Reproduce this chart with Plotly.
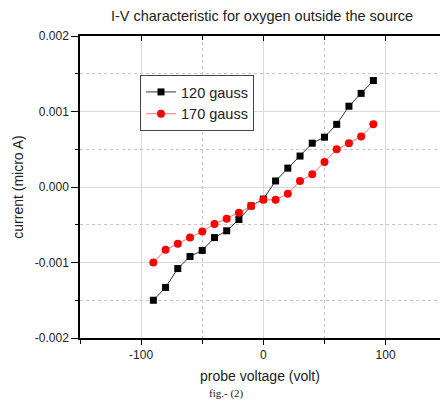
import plotly.graph_objects as go

# Probe voltage (V) and probe current readings for the two field strengths
voltage = [-90, -80, -70, -60, -50, -40, -30, -20, -10, 0,
           10, 20, 30, 40, 50, 60, 70, 80, 90]
current_120 = [-0.00150, -0.00133, -0.00108, -0.00092, -0.00084, -0.00067,
               -0.00058, -0.00043, -0.00025, -0.00016, 0.00008, 0.00025,
               0.00041, 0.00058, 0.00066, 0.00083, 0.00107, 0.00124, 0.00141]
current_170 = [-0.00100, -0.00083, -0.00075, -0.00067, -0.00059, -0.00049,
               -0.00042, -0.00034, -0.00025, -0.00017, -0.00017, -0.00009,
               0.00008, 0.00017, 0.00033, 0.00050, 0.00058, 0.00067, 0.00083]

x_ticks = [-100, 0, 100]
x_tick_text = ["-100", "0", "100"]
y_ticks = [-0.002, -0.001, 0.000, 0.001, 0.002]
y_tick_text = ["-0.002", "-0.001", "0.000", "0.001", "0.002"]

FONT = "Liberation Sans, Arial, sans-serif"

fig = go.Figure()
fig.add_trace(go.Scatter(
    x=voltage, y=current_120, name="120 gauss", mode="lines+markers",
    line=dict(color="#333333", width=1),
    marker=dict(symbol="square", size=7, color="#000000"),
))
fig.add_trace(go.Scatter(
    x=voltage, y=current_170, name="170 gauss", mode="lines+markers",
    line=dict(color="#ff7070", width=1),
    marker=dict(symbol="circle", size=8, color="#ff0000"),
))

grid_major = "#d9d9d9"
grid_minor = "#c4c4c4"

fig.update_layout(
    width=440, height=401,
    margin=dict(l=80, r=0, t=36, b=63),
    paper_bgcolor="white", plot_bgcolor="white",
    font=dict(family=FONT, color="#222222", size=12),
    title=dict(text="I-V characteristic for oxygen outside the source",
               x=262 / 440, xanchor="center", y=1 - 16 / 401, yanchor="middle",
               font=dict(size=14.5, color="#222222")),
    showlegend=True,
    legend=dict(x=(140 - 80) / 360, y=(338 - 75) / 302, xanchor="left", yanchor="top",
                bordercolor="#444444", borderwidth=1, bgcolor="white",
                font=dict(size=14.5, color="#222222"),
                tracegroupgap=0, itemwidth=30),
    xaxis=dict(
        range=[-150, 144.5], tickvals=x_ticks, ticktext=x_tick_text,
        ticks="outside", ticklen=5,
        tickwidth=1.2, tickcolor="#000", showline=True, linecolor="#000",
        linewidth=1.5, showgrid=True, gridcolor=grid_major, gridwidth=1,
        zeroline=False, tickfont=dict(size=12),
        minor=dict(dtick=50, tick0=0, ticks="outside", ticklen=4,
                   tickcolor="#000", showgrid=True, gridcolor=grid_minor,
                   griddash="dot"),
        title=dict(text="probe voltage (volt)", font=dict(size=14), standoff=10),
    ),
    xaxis2=dict(
        matches="x", overlaying="x", side="top", showticklabels=False,
        tickvals=x_ticks, ticks="inside", ticklen=5, tickwidth=1.2,
        tickcolor="#000", showline=True, linecolor="#000", linewidth=1.5,
        showgrid=False, zeroline=False,
        minor=dict(dtick=50, tick0=0, ticks="inside", ticklen=4,
                   tickcolor="#000", showgrid=False),
    ),
    yaxis=dict(
        range=[-0.002, 0.002], tickvals=y_ticks, ticktext=y_tick_text,
        ticks="outside", ticklen=7, tickwidth=1.2, tickcolor="#000",
        showline=True, linecolor="#000", linewidth=1.5,
        showgrid=True, gridcolor=grid_major, gridwidth=1, zeroline=False,
        tickfont=dict(size=12),
        minor=dict(dtick=0.0005, tick0=0, ticks="outside", ticklen=3,
                   tickcolor="#000", showgrid=True, gridcolor=grid_minor,
                   griddash="dot"),
        title=dict(text="current (micro A)", font=dict(size=14), standoff=8),
    ),
)

# Invisible trace so the mirrored top axis is drawn
fig.add_trace(go.Scatter(x=[0], y=[0], xaxis="x2", mode="markers",
                         marker=dict(opacity=0), showlegend=False,
                         hoverinfo="skip"))

fig.add_annotation(text="fig.- (2)", xref="paper", yref="paper",
                   x=(226 - 80) / 360, y=-(393 - 338) / 302,
                   xanchor="center", yanchor="middle", showarrow=False,
                   font=dict(family="Liberation Serif, Times New Roman, serif",
                             size=11, color="#222222"))

fig.write_html("out.html")
